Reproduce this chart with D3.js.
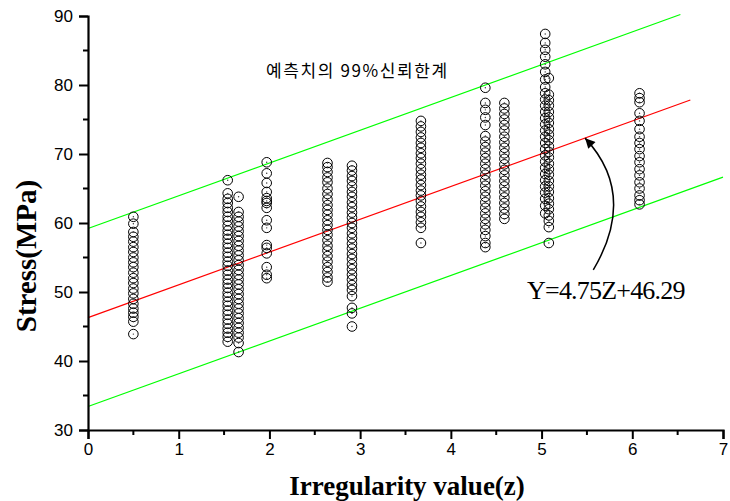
<!DOCTYPE html>
<html>
<head>
<meta charset="utf-8">
<script src="https://cdn.jsdelivr.net/npm/d3@7"></script>
<style>
body{margin:0;background:#fff;}
svg{display:block;}
</style>
</head>
<body>
<svg id="chart" width="730" height="501"></svg>
<script>
// irregularity value of each column of measurements
let zValues=[0.50,1.54,1.66,1.97,2.64,2.91,3.67,4.38,4.59,5.04,5.08,6.08]

// stress readings (MPa) per column
let s050=[60.9,59.9,58.7,58.0,57.3,56.5,55.8,55.0,54.3,53.6,52.8,52.0,51.3,50.5,49.8,49.0,48.3,47.6,47.0,46.4,45.7,43.9]
let s154=[66.2,64.3,63.5,62.9,62.2,61.6,60.9,60.3,59.6,58.9,58.3,57.7,57.0,56.4,55.7,55.1,54.4,53.8,53.1,52.5,51.8,51.2,50.6,49.9,49.3,48.6,48.0,47.3,46.7,46.0,45.4,44.7,44.1,43.5,42.8]
let s166=[63.8,61.6,60.9,60.2,59.5,58.8,58.1,57.4,56.7,56.0,55.3,54.6,53.9,53.2,52.5,51.8,51.1,50.4,49.7,49.0,48.3,47.6,46.9,46.2,45.5,44.8,44.1,43.4,42.6,41.3]
let s197=[68.8,67.2,65.8,64.5,63.6,63.2,62.9,62.2,60.4,59.3,56.8,56.4,55.6,53.6,52.5,52.0]
let s264=[68.7,68.1,67.4,66.6,65.9,65.0,64.2,63.4,62.6,61.9,61.2,60.4,59.7,59.0,58.3,57.5,56.7,56.0,55.2,54.4,53.6,52.9,52.1,51.5]
let s291=[68.3,67.6,66.8,66.1,65.3,64.5,63.8,63.0,62.3,61.5,60.8,60.0,59.3,58.5,57.8,57.0,56.3,55.5,54.8,54.0,53.3,52.5,51.8,51.0,50.3,49.4,47.7,46.9,45.0]
let s367=[74.8,74.0,73.2,72.4,71.6,70.9,70.1,69.4,68.6,67.8,67.0,66.3,65.5,64.7,64.0,63.2,62.4,61.6,60.9,60.1,59.3,57.1]
let s438=[79.6,77.4,76.4,75.3,74.2,72.6,71.8,71.0,70.2,69.4,68.6,67.8,67.0,66.2,65.4,64.6,63.8,63.0,62.2,61.4,60.6,59.8,59.0,58.1,57.1,56.5]
let s459=[77.4,76.6,75.8,75.0,74.2,73.4,72.5,71.7,70.9,70.1,69.3,68.5,67.7,66.9,66.1,65.3,64.5,63.7,62.9,62.1,61.3,60.6]
let s504=[87.4,86.1,85.1,84.1,83.0,81.9,80.8,79.7,78.8,77.9,77.0,76.1,75.2,74.3,73.4,72.5,71.6,70.7,69.8,68.9,68.0,67.1,66.2,65.3,64.4,63.5,62.5,61.4]
let s508=[81.0,78.6,77.8,77.0,76.1,75.3,74.5,73.6,72.8,72.0,71.1,70.3,69.5,68.6,67.8,67.0,66.1,65.3,64.5,63.6,62.8,62.0,61.1,60.3,59.4,57.1]
let s608=[78.8,78.1,77.5,75.9,74.8,73.6,72.5,71.6,70.7,69.7,68.8,67.8,66.9,65.9,65.0,64.0,63.3,62.7]
let stressCols=[s050,s154,s166,s197,s264,s291,s367,s438,s459,s504,s508,s608]

// regression line and 99% prediction limits: [slope, intercept, z end]
let fitLine=[4.75,46.29,6.64]
let upperLine=[4.75,59.2,6.53]
let lowerLine=[4.75,33.4,7.0]

let xTicks=[0,1,2,3,4,5,6,7]
let yTicks=[30,40,50,60,70,80,90]

let chart=d3.select("#chart")
let x=d3.scaleLinear().domain([0,7]).range([88,723])
let y=d3.scaleLinear().domain([30,90]).range([430,16])

let points=[]
zValues.forEach((z,i)=>{
    stressCols[i].forEach(s=>points.push({z:z,s:s}))
})

// lines
let drawLine=(ln,color)=>{
    chart.append('line')
        .attr('x1',x(0)).attr('y1',y(ln[1]))
        .attr('x2',x(ln[2])).attr('y2',y(ln[1]+ln[0]*ln[2]))
        .attr('stroke',color).attr('stroke-width',1.2)
}
drawLine(upperLine,'#00ff00')
drawLine(lowerLine,'#00ff00')
drawLine(fitLine,'#ff0000')

// hollow circle markers with a centre dot
let g=chart.append('g')
g.selectAll('circle.pt')
    .data(points)
    .enter()
    .append('circle')
    .attr('class','pt')
    .attr('cx',d=>x(d.z))
    .attr('cy',d=>y(d.s))
    .attr('r',4.8)
    .attr('fill','none')
    .attr('stroke','#000')
    .attr('stroke-width',1)
g.selectAll('circle.dot')
    .data(points)
    .enter()
    .append('circle')
    .attr('class','dot')
    .attr('cx',d=>x(d.z))
    .attr('cy',d=>y(d.s))
    .attr('r',0.7)
    .attr('fill','#333')

// axes
let xAxis=d3.axisBottom(x).tickValues(xTicks).tickSize(9).tickPadding(4).tickFormat(d3.format('d'))
let yAxis=d3.axisLeft(y).tickValues(yTicks).tickSize(9).tickPadding(6).tickFormat(d3.format('d'))
let gx=chart.append('g').attr('transform','translate(0,430)').call(xAxis)
let gy=chart.append('g').attr('transform','translate(88,0)').call(yAxis)
// minor ticks at halves
gx.selectAll('line.minor').data(d3.range(0.5,7,1)).enter().append('line')
    .attr('class','minor').attr('x1',d=>x(d)).attr('x2',d=>x(d)).attr('y1',0).attr('y2',5)
    .attr('stroke','#000').attr('stroke-width',2)
gy.selectAll('line.minor').data(d3.range(35,90,10)).enter().append('line')
    .attr('class','minor').attr('y1',d=>y(d)).attr('y2',d=>y(d)).attr('x1',0).attr('x2',-5)
    .attr('stroke','#000').attr('stroke-width',2)
chart.selectAll('.domain').attr('stroke','#000').attr('stroke-width',2.2)
chart.selectAll('.tick line').attr('stroke','#000').attr('stroke-width',2)
chart.selectAll('.tick text')
    .style('font-family','Liberation Sans, Arial, sans-serif')
    .style('font-size','17px')
    .attr('fill','#000')

// axis titles
chart.append('text')
    .attr('x',407).attr('y',495)
    .attr('text-anchor','middle')
    .style('font-family','Liberation Serif, Times New Roman, serif')
    .style('font-weight','bold')
    .style('font-size','27px')
    .text('Irregularity value(z)')
chart.append('text')
    .attr('transform','translate(36,256) rotate(-90)')
    .attr('text-anchor','middle')
    .style('font-family','Liberation Serif, Times New Roman, serif')
    .style('font-weight','bold')
    .style('font-size','29px')
    .text('Stress(MPa)')

// annotations
chart.append('text')
    .attr('x',x(2.97)).attr('y',y(81.2))
    .attr('text-anchor','middle')
    .style('font-family','Noto Sans CJK KR, sans-serif')
    .style('font-size','17px')
    .style('letter-spacing','1.6px')
    .text('예측치의 99%신뢰한계')

chart.append('text')
    .attr('x',x(4.84)).attr('y',y(49.0))
    .style('font-family','Liberation Serif, Times New Roman, serif')
    .style('font-size','26px')
    .style('letter-spacing','-0.8px')
    .text('Y=4.75Z+46.29')

let defs=chart.append('defs')
defs.append('marker')
    .attr('id','head').attr('viewBox','0 0 10 10')
    .attr('refX',10).attr('refY',5)
    .attr('markerWidth',12).attr('markerHeight',10)
    .attr('markerUnits','userSpaceOnUse')
    .attr('orient','auto')
    .append('path').attr('d','M0,0 L10,5 L0,10 z').attr('fill','#000')

let arrowPts=[[5.57,53.2],[6.06,64.1],[5.48,72.3]]
let p=d3.path()
p.moveTo(x(arrowPts[0][0]),y(arrowPts[0][1]))
p.quadraticCurveTo(x(arrowPts[1][0]),y(arrowPts[1][1]),x(arrowPts[2][0]),y(arrowPts[2][1]))
chart.append('path')
    .attr('d',p.toString())
    .attr('fill','none')
    .attr('stroke','#000')
    .attr('stroke-width',1.5)
    .attr('marker-end','url(#head)')
</script>
</body>
</html>
